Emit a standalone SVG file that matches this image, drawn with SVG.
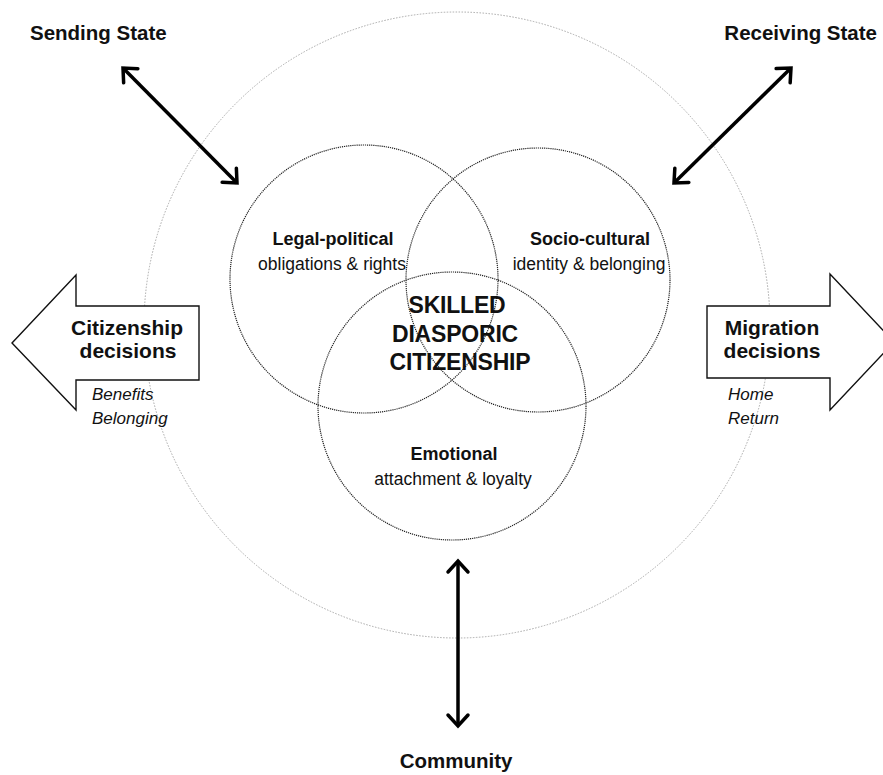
<svg xmlns="http://www.w3.org/2000/svg" width="883" height="775" viewBox="0 0 883 775">
<defs>
<style>
text{font-family:"Liberation Sans",Arial,sans-serif;fill:#111}
.lab{font-size:20.5px;font-weight:bold}
.dec{font-size:21px;font-weight:bold;text-anchor:middle}
.it{font-size:17px;font-style:italic}
.h{font-size:18px;font-weight:bold;text-anchor:middle}
.s{font-size:17.5px;text-anchor:middle}
.core{font-size:23px;font-weight:bold;text-anchor:middle;letter-spacing:-0.2px}
.outer{fill:none;stroke:#a8a8a8;stroke-width:1;stroke-dasharray:1.5 1.5}
.venn{fill:none;stroke:#222;stroke-width:1.2;stroke-dasharray:1.2 0.9}
.big{fill:#fff;stroke:#111;stroke-width:1.4;stroke-linejoin:miter}
.dbl{stroke:#000;stroke-width:3.5;fill:none;marker-start:url(#chev);marker-end:url(#chev)}
</style>
<marker id="chev" markerUnits="userSpaceOnUse" markerWidth="30" markerHeight="30" refX="15" refY="15" orient="auto-start-reverse" viewBox="0 0 30 30">
<path d="M4 5 L15 15 L4 25" fill="none" stroke="#000" stroke-width="3.5" stroke-linecap="round" stroke-linejoin="miter"/>
</marker>
</defs>
<rect width="883" height="775" fill="#fff"/>
<circle id="context" class="outer" cx="457" cy="325" r="313"/>
<g id="citizenship-decisions">
<polygon class="big" points="12,343 76,275 76,306 199,306 199,380 76,380 76,410"/>
<text class="dec" x="127" y="335">Citizenship</text>
<text class="dec" x="128" y="358">decisions</text>
<text class="it" x="92" y="400">Benefits</text>
<text class="it" x="92" y="424">Belonging</text>
</g>
<g id="migration-decisions">
<polygon class="big" points="707,306 830,306 830,274 894,342 830,410 830,378 707,378"/>
<text class="dec" x="772" y="335">Migration</text>
<text class="dec" x="772" y="358">decisions</text>
<text class="it" x="728" y="400">Home</text>
<text class="it" x="728" y="424">Return</text>
</g>
<g id="legal-political">
<circle class="venn" cx="364" cy="279" r="134"/>
<text class="h" x="333" y="245">Legal-political</text>
<text class="s" x="332" y="270">obligations &amp; rights</text>
</g>
<g id="socio-cultural">
<circle class="venn" cx="538" cy="280" r="132"/>
<text class="h" x="590" y="245">Socio-cultural</text>
<text class="s" x="589" y="270">identity &amp; belonging</text>
</g>
<g id="emotional">
<circle class="venn" cx="452" cy="406" r="134"/>
<text class="h" x="454" y="460">Emotional</text>
<text class="s" x="453" y="485">attachment &amp; loyalty</text>
</g>
<g id="core">
<text class="core" x="457" y="313">SKILLED</text>
<text class="core" x="455" y="342">DIASPORIC</text>
<text class="core" x="460" y="370">CITIZENSHIP</text>
</g>
<g id="sending-state"><text class="lab" x="30" y="40">Sending State</text></g>
<g id="receiving-state"><text class="lab" x="877" y="40" text-anchor="end">Receiving State</text></g>
<g id="community"><text class="lab" x="456" y="768" text-anchor="middle">Community</text></g>
<g id="connectors">
<line class="dbl" x1="123" y1="68" x2="237" y2="183"/>
<line class="dbl" x1="791" y1="68" x2="674" y2="183"/>
<line class="dbl" x1="458" y1="561" x2="458" y2="726"/>
</g>
</svg>
